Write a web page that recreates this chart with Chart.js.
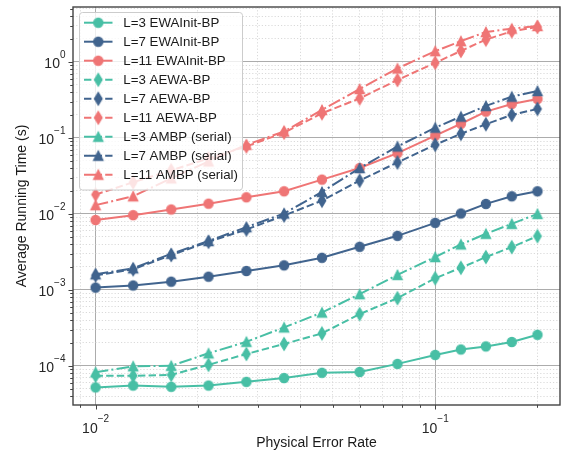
<!DOCTYPE html>
<html><head><meta charset="utf-8">
<script src="https://cdn.jsdelivr.net/npm/chart.js@4.4.1/dist/chart.umd.min.js"></script>
<style>html,body{margin:0;padding:0;background:#fff;}</style>
</head><body>
<canvas id="c" width="567" height="458"></canvas>
<script>
// ---------- data ----------
const errorRates = [0.01, 0.0129, 0.0167, 0.0215, 0.0278, 0.0359, 0.0464, 0.0599, 0.0774, 0.1, 0.119, 0.141, 0.168, 0.2];

const l3EwainitBp = [5.2e-5, 5.5e-5, 5.3e-5, 5.5e-5, 6.15e-5, 6.9e-5, 8.1e-5, 8.3e-5, 1.06e-4, 1.39e-4, 1.64e-4, 1.80e-4, 2.06e-4, 2.56e-4];
const l7EwainitBp = [1.07e-3, 1.14e-3, 1.28e-3, 1.49e-3, 1.77e-3, 2.10e-3, 2.64e-3, 3.68e-3, 5.13e-3, 7.6e-3, 1.01e-2, 1.35e-2, 1.70e-2, 1.98e-2];
const l11EwainitBp = [8.3e-3, 9.6e-3, 1.14e-2, 1.36e-2, 1.65e-2, 1.98e-2, 2.82e-2, 4.0e-2, 6.28e-2, 0.107, 0.153, 0.221, 0.279, 0.324];

const l3AewaBp = [7.4e-5, 7.4e-5, 7.6e-5, 1.03e-4, 1.43e-4, 1.94e-4, 2.67e-4, 4.79e-4, 7.76e-4, 1.42e-3, 1.95e-3, 2.70e-3, 3.65e-3, 5.08e-3];
const l7AewaBp = [1.55e-3, 1.86e-3, 2.87e-3, 4.28e-3, 6.22e-3, 9.5e-3, 1.49e-2, 2.73e-2, 4.74e-2, 8.1e-2, 0.113, 0.151, 0.200, 0.240];
const l11AewaBp = [1.79e-2, 0.026, 0.0373, 0.0536, 0.077, 0.117, 0.21, 0.330, 0.576, 0.97, 1.39, 1.96, 2.52, 2.87];

const l3Ambp = [8.2e-5, 9.85e-5, 1.0e-4, 1.46e-4, 2.07e-4, 3.2e-4, 5.02e-4, 8.76e-4, 1.57e-3, 2.70e-3, 3.96e-3, 5.46e-3, 7.38e-3, 9.97e-3];
const l7Ambp = [1.6e-3, 1.92e-3, 2.98e-3, 4.38e-3, 6.67e-3, 1.01e-2, 1.94e-2, 4.0e-2, 7.69e-2, 0.136, 0.190, 0.263, 0.348, 0.413];
const l11Ambp = [1.30e-2, 1.70e-2, 0.0293, 0.0489, 0.081, 0.121, 0.233, 0.439, 0.817, 1.38, 1.87, 2.47, 2.73, 2.96];

const seriesLabels = ['L=3 EWAInit-BP', 'L=7 EWAInit-BP', 'L=11 EWAInit-BP',
  'L=3 AEWA-BP', 'L=7 AEWA-BP', 'L=11 AEWA-BP',
  'L=3 AMBP (serial)', 'L=7 AMBP (serial)', 'L=11 AMBP (serial)'];
const seriesValues = [l3EwainitBp, l7EwainitBp, l11EwainitBp, l3AewaBp, l7AewaBp, l11AewaBp, l3Ambp, l7Ambp, l11Ambp];

const xTickExponents = [-2, -1];
const yTickExponents = [-4, -3, -2, -1, 0];
const xAxisTitle = 'Physical Error Rate';
const yAxisTitle = 'Average Running Time (s)';

// ---------- styles ----------
const COLORS = ['#48BFA5', '#41648E', '#EF7575'];
const DASHES = [[], [7.4, 3.2], [12.8, 3.2, 2, 3.2]];
const SHAPES = ['circle', 'thinDiamond', 'triangle'];
const FONT = '"Liberation Sans", Arial, Helvetica, sans-serif';

function makeMarker(shape, color) {
  const c = document.createElement('canvas');
  c.width = 18; c.height = 18;
  const g = c.getContext('2d');
  g.fillStyle = color; g.strokeStyle = color; g.lineWidth = 1.2; g.lineJoin = 'miter';
  g.beginPath();
  const cx = 9, cy = 9;
  if (shape === 'circle') {
    g.arc(cx, cy, 4.6, 0, Math.PI * 2);
  } else if (shape === 'triangle') {
    g.moveTo(cx, cy - 4.7); g.lineTo(cx + 4.7, cy + 4.7); g.lineTo(cx - 4.7, cy + 4.7); g.closePath();
  } else {
    g.moveTo(cx, cy - 6.3); g.lineTo(cx + 3.8, cy); g.lineTo(cx, cy + 6.3); g.lineTo(cx - 3.8, cy); g.closePath();
  }
  g.fill(); g.stroke();
  return c;
}

const datasets = seriesValues.map((vals, i) => {
  const ci = i % 3, gi = Math.floor(i / 3);
  const marker = makeMarker(SHAPES[gi], COLORS[ci]);
  return {
    label: seriesLabels[i],
    data: errorRates.map((x, k) => ({x: x, y: vals[k]})),
    borderColor: COLORS[ci],
    backgroundColor: COLORS[ci],
    borderWidth: 2,
    borderDash: DASHES[gi],
    pointStyle: marker,
    pointRadius: 5,
    pointHoverRadius: 5,
    tension: 0,
    fill: false,
    order: 20 - i,
    _marker: marker,
    _dash: DASHES[gi]
  };
});

function decadeTicks(min, max) {
  const ticks = [];
  for (let e = Math.floor(Math.log10(min)); e <= Math.ceil(Math.log10(max)); e++) {
    for (let m = 1; m <= 9; m++) {
      const v = m * Math.pow(10, e);
      if (v > min * 1.0001 && v < max * 0.9999) ticks.push({value: v, major: m === 1});
    }
  }
  return ticks;
}

const X_MIN = 0.00858, X_MAX = 0.233, Y_MIN = 3.05e-5, Y_MAX = 5.26;

const gridColor = ctx => (ctx.tick && ctx.tick.major) ? '#acacac' : '#d0d0d0';
const gridWidth = ctx => (ctx.tick && ctx.tick.major) ? 1 : 0.8;
const gridDash = ctx => (ctx.tick && ctx.tick.major) ? [] : [1.2, 2];

const sup = {'-': '\u2212'};
function expText(e) { return String(e).split('').map(ch => sup[ch] || ch).join(''); }

const axisDecor = {
  id: 'axisDecor',
  afterDatasetsDraw(chart) {
    const {ctx, chartArea: a} = chart;
    const xs = chart.scales.x, ys = chart.scales.y;
    ctx.save();
    // frame
    ctx.strokeStyle = '#444444';
    ctx.lineWidth = 1.4;
    ctx.strokeRect(a.left, a.top, a.right - a.left, a.bottom - a.top);
    // tick marks
    ctx.lineWidth = 1;
    ctx.strokeStyle = '#444444';
    ys.ticks.forEach(t => {
      const y = Math.round(ys.getPixelForValue(t.value)) + 0.5;
      const len = t.major ? 4.5 : 2.8;
      ctx.beginPath(); ctx.moveTo(a.left, y); ctx.lineTo(a.left - len, y); ctx.stroke();
    });
    xs.ticks.forEach(t => {
      const x = Math.round(xs.getPixelForValue(t.value)) + 0.5;
      const len = t.major ? 4.5 : 2.8;
      ctx.beginPath(); ctx.moveTo(x, a.bottom); ctx.lineTo(x, a.bottom + len); ctx.stroke();
    });
    // tick labels 10^e
    ctx.fillStyle = '#262626';
    ctx.textBaseline = 'alphabetic';
    const bigFont = '14px ' + FONT, smallFont = '10px ' + FONT;
    yTickExponents.forEach(e => {
      const y = ys.getPixelForValue(Math.pow(10, e));
      ctx.font = smallFont; const we = ctx.measureText(expText(e)).width;
      ctx.font = bigFont; const wb = ctx.measureText('10').width;
      const right = a.left - 7.5;
      ctx.textAlign = 'left';
      ctx.font = bigFont; ctx.fillText('10', right - we - wb, y + 6.6);
      ctx.font = smallFont; ctx.fillText(expText(e), right - we, y - 3.5);
    });
    xTickExponents.forEach(e => {
      const x = xs.getPixelForValue(Math.pow(10, e));
      ctx.font = smallFont; const we = ctx.measureText(expText(e)).width;
      ctx.font = bigFont; const wb = ctx.measureText('10').width;
      const left = x - (we + wb) / 2;
      ctx.textAlign = 'left';
      ctx.font = bigFont; ctx.fillText('10', left, a.bottom + 27.5);
      ctx.font = smallFont; ctx.fillText(expText(e), left + wb, a.bottom + 17);
    });
    // legend
    const lx = 79.5, ly = 12.5, lw = 163, rowH = 19.0, lh = 9 * rowH + 6.5;
    ctx.beginPath();
    if (ctx.roundRect) ctx.roundRect(lx, ly, lw, lh, 3); else ctx.rect(lx, ly, lw, lh);
    ctx.fillStyle = 'rgba(255,255,255,0.8)';
    ctx.fill();
    ctx.strokeStyle = '#cccccc'; ctx.lineWidth = 1;
    ctx.stroke();
    chart.data.datasets.forEach((ds, i) => {
      const cy = 22.7 + i * rowH;
      ctx.save();
      ctx.strokeStyle = ds.borderColor; ctx.lineWidth = 2;
      ctx.setLineDash(ds._dash);
      ctx.beginPath(); ctx.moveTo(84, cy); ctx.lineTo(112.5, cy); ctx.stroke();
      ctx.restore();
      const m = ds._marker;
      ctx.drawImage(m, 98.3 - m.width / 2, cy - m.height / 2);
      ctx.fillStyle = '#1a1a1a';
      ctx.font = '13.3px ' + FONT;
      ctx.textAlign = 'left'; ctx.textBaseline = 'middle';
      ctx.fillText(ds.label, 123.3, cy + 0.5);
    });
    ctx.restore();
  }
};

new Chart(document.getElementById('c'), {
  type: 'line',
  data: {datasets: datasets},
  options: {
    responsive: false,
    devicePixelRatio: 1,
    animation: false,
    layout: {padding: {left: 0, right: 5, top: 5, bottom: 0}},
    plugins: {legend: {display: false}, tooltip: {enabled: false}},
    scales: {
      x: {
        type: 'logarithmic', position: 'bottom', min: X_MIN, max: X_MAX,
        afterBuildTicks: s => { s.ticks = decadeTicks(X_MIN, X_MAX); },
        afterFit: s => { s.height = 53; },
        ticks: {display: false},
        grid: {color: gridColor, lineWidth: gridWidth, drawTicks: false, tickLength: 0},
        border: {display: false, dash: gridDash},
        title: {display: true, text: xAxisTitle, color: '#1a1a1a', font: {family: FONT, size: 14}, padding: {top: 0, bottom: 6.5}}
      },
      y: {
        type: 'logarithmic', position: 'left', min: Y_MIN, max: Y_MAX,
        afterBuildTicks: s => { s.ticks = decadeTicks(Y_MIN, Y_MAX); },
        afterFit: s => { s.width = 73; },
        ticks: {display: false},
        grid: {color: gridColor, lineWidth: gridWidth, drawTicks: false, tickLength: 0},
        border: {display: false, dash: gridDash},
        title: {display: true, text: yAxisTitle, color: '#1a1a1a', font: {family: FONT, size: 14}, padding: {top: 14, bottom: 0}}
      }
    }
  },
  plugins: [axisDecor]
});
</script>
</body></html>
